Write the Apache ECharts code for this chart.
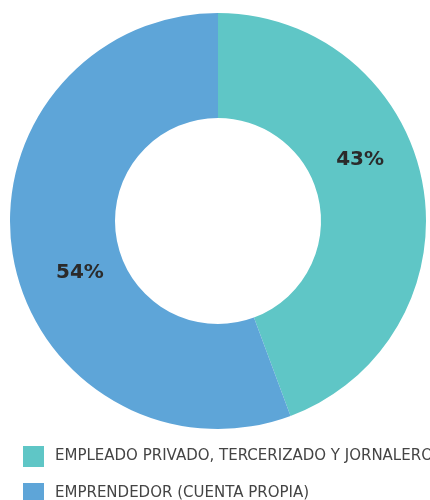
<!DOCTYPE html>
<html>
<head>
<meta charset="utf-8">
<script src="https://cdn.jsdelivr.net/npm/echarts@6/dist/echarts.min.js"></script>
<style>
  html, body { margin: 0; padding: 0; background: #fff; }
  #chart { width: 430px; height: 500px; }
</style>
</head>
<body>
<div id="chart"></div>
<script>
// datos
const categories = ['EMPLEADO PRIVADO, TERCERIZADO Y JORNALERO', 'EMPRENDEDOR (CUENTA PROPIA)'];
const values = [43, 54];
const colors = ['#5fc6c6', '#5ea5d8'];

const pieData = categories.map((name, i) => ({ name, value: values[i] }));

var chart = echarts.init(document.getElementById('chart'));
chart.setOption({
  animation: false,
  color: colors,
  legend: {
    orient: 'vertical',
    left: 23,
    top: 446,
    height: 100,
    padding: 0,
    icon: 'rect',
    itemWidth: 21,
    itemHeight: 21,
    itemGap: 16,
    selectedMode: false,
    textStyle: {
      fontFamily: 'DejaVu Sans',
      fontSize: 15,
      color: '#444',
      padding: [0, 0, 0, 6]
    },
    data: categories
  },
  series: [
    {
      type: 'pie',
      center: [218, 221],
      radius: [103, 208],
      startAngle: 90,
      clockwise: true,
      label: { show: false },
      labelLine: { show: false },
      emphasis: { disabled: true },
      data: pieData
    },
    {
      // capa de etiquetas (rotada como en el original)
      type: 'pie',
      center: [220, 216],
      radius: [103, 193],
      startAngle: 101.7,
      clockwise: true,
      silent: true,
      itemStyle: { color: 'rgba(0,0,0,0)' },
      label: {
        show: true,
        position: 'inside',
        formatter: '{c}%',
        fontFamily: 'DejaVu Sans',
        fontSize: 20,
        fontWeight: 'bold',
        color: '#2b2b2b'
      },
      labelLine: { show: false },
      emphasis: { disabled: true },
      data: pieData
    }
  ]
});
</script>
</body>
</html>
